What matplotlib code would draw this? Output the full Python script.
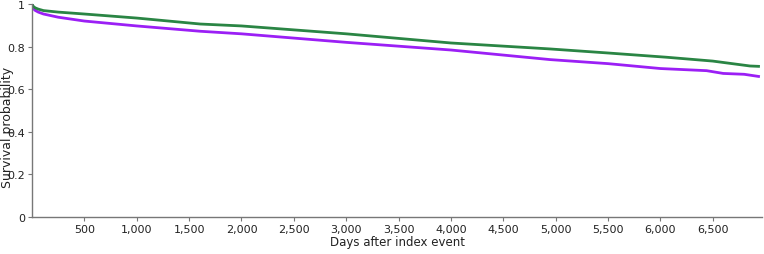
import matplotlib
matplotlib.use("Agg")
import matplotlib.pyplot as plt
from matplotlib.ticker import FuncFormatter

days_green = [0, 10, 30, 60, 110, 250, 500, 1000, 1607, 2000, 3000, 4000, 4946, 5500, 6060, 6500, 6855, 6950]
surv_green = [1.0, 0.99, 0.982, 0.976, 0.969, 0.962, 0.953, 0.934, 0.906, 0.897, 0.86, 0.817, 0.789, 0.77, 0.75, 0.732, 0.709, 0.707]

days_purple = [0, 10, 30, 60, 110, 250, 500, 1000, 1607, 2000, 3000, 4000, 4946, 5500, 6000, 6441, 6600, 6800, 6950]
surv_purple = [1.0, 0.98, 0.97, 0.962, 0.953, 0.938, 0.92, 0.897, 0.872, 0.86, 0.82, 0.784, 0.739, 0.72, 0.697, 0.687, 0.674, 0.67, 0.659]

x_ticks = [500, 1000, 1500, 2000, 2500, 3000, 3500, 4000, 4500, 5000, 5500, 6000, 6500]
y_ticks = [0, 0.2, 0.4, 0.6, 0.8, 1.0]
y_tick_labels = ["0", "0.2", "0.4", "0.6", "0.8", "1"]

fig = plt.figure(figsize=(7.64, 2.55), dpi=100)
ax = fig.add_axes([32/764, 37/255, 730/764, 213/255])

ax.plot(days_purple, surv_purple, color="#9b1ff5", lw=2.0, solid_capstyle="butt")
ax.plot(days_green, surv_green, color="#2a8544", lw=2.0, solid_capstyle="butt")

ax.set_xlim(0, 6970)
ax.set_ylim(0, 1)
ax.set_xticks(x_ticks)
ax.xaxis.set_major_formatter(FuncFormatter(lambda v, p: f"{int(v):,}"))
ax.set_yticks(y_ticks)
ax.set_yticklabels(y_tick_labels)

for s in ["top", "right"]:
    ax.spines[s].set_visible(False)
for s in ["left", "bottom"]:
    ax.spines[s].set_color("#777777")
    ax.spines[s].set_linewidth(1.0)
ax.tick_params(axis="both", colors="#777777", labelcolor="#222222", labelsize=8, length=3, width=0.8, pad=2)

ax.set_xlabel("Days after index event", fontsize=8.5, color="#222222", labelpad=1)
fig.text(1/764, 0.5 + (37 - 5) / 2 / 255 * 0, "Survival probability", rotation=90,
         ha="left", va="center", fontsize=9, color="#222222",
         transform=fig.transFigure)

fig.savefig("out.png", dpi=100)
